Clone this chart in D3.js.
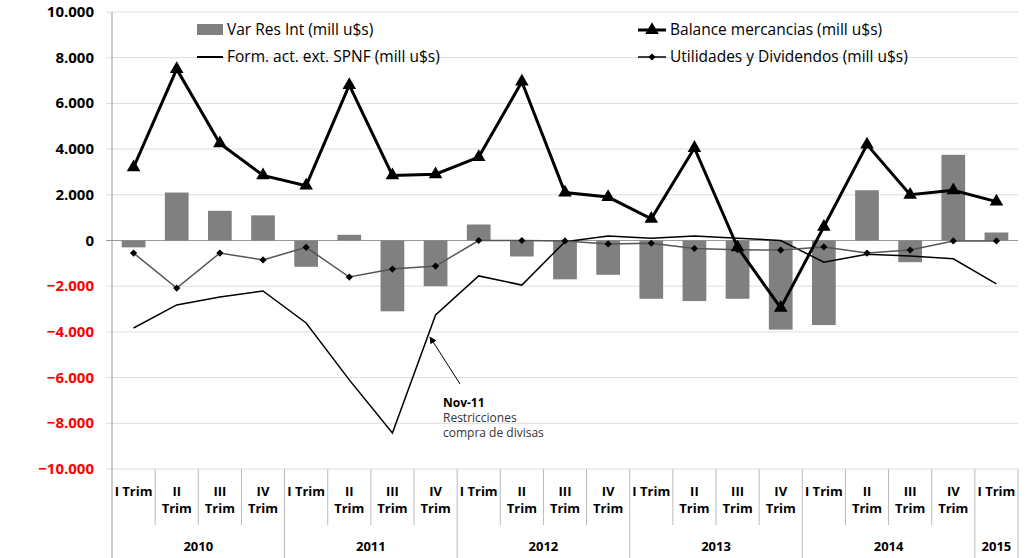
<!DOCTYPE html><html><head><meta charset="utf-8"><script src="https://cdn.jsdelivr.net/npm/d3@7"></script>
<style>body{margin:0;background:#fff}text{font-family:"Open Sans",Calibri,sans-serif}</style></head><body><svg id="c" width="1031" height="558"></svg>
<script>
const years=["2010","2011","2012","2013","2014","2015"];
const quarters=["I Trim","II Trim","III Trim","IV Trim","I Trim","II Trim","III Trim","IV Trim","I Trim","II Trim","III Trim","IV Trim","I Trim","II Trim","III Trim","IV Trim","I Trim","II Trim","III Trim","IV Trim","I Trim"];
const varRes=[-300,2100,1300,1100,-1150,250,-3100,-2000,700,-700,-1700,-1500,-2550,-2650,-2550,-3900,-3700,2200,-950,3750,350];
const balance=[3200,7500,4250,2850,2400,6800,2850,2900,3650,6950,2100,1900,950,4050,-300,-2950,600,4200,2000,2200,1700];
const spnf=[-3830,-2820,-2470,-2210,-3610,-6100,-8420,-3260,-1550,-1950,-50,200,100,200,100,0,-950,-600,-680,-800,-1900];
const util=[-550,-2080,-550,-850,-300,-1600,-1250,-1120,0,0,-20,-150,-120,-350,-400,-420,-280,-550,-420,-20,-20];
const yTicks=[-10000,-8000,-6000,-4000,-2000,0,2000,4000,6000,8000,10000];
const svg=d3.select("#c");
const L=112,R=1018,T=12,B=469;
const x=d3.scaleBand().domain(d3.range(21)).range([L,R]);
const y=d3.scaleLinear().domain([-10000,10000]).range([B,T]);
const fmt=v=>d3.format(",")(v).replace(/,/g,".");
yTicks.forEach(t=>{
 svg.append("line").attr("x1",L-6).attr("x2",R).attr("y1",y(t)).attr("y2",y(t)).attr("stroke",t===0?"#999":"#ddd");
 svg.append("text").attr("x",L-18).attr("y",y(t)+5).attr("text-anchor","end").attr("font-size",15).attr("font-weight","bold").attr("fill",t<0?"#f00":"#000").text(fmt(t));
});
svg.append("line").attr("x1",L).attr("x2",L).attr("y1",T).attr("y2",558).attr("stroke","#999");
const bw=x.bandwidth()*0.55;
svg.selectAll(".b").data(varRes).join("rect").attr("x",(d,i)=>x(i)+(x.bandwidth()-bw)/2).attr("width",bw)
 .attr("y",d=>y(Math.max(0,d))).attr("height",d=>Math.abs(y(d)-y(0))).attr("fill","#808080");
const cx=i=>x(i)+x.bandwidth()/2;
const line=d3.line().x((d,i)=>cx(i)).y(d=>y(d));
const dia=d3.symbol(d3.symbolSquare,26)();
svg.append("path").attr("d",line(spnf)).attr("fill","none").attr("stroke","#000").attr("stroke-width",1.5);
svg.append("path").attr("d",line(util)).attr("fill","none").attr("stroke","#555").attr("stroke-width",1.5);
util.forEach((d,i)=>svg.append("path").attr("d",dia).attr("transform",`translate(${cx(i)},${y(d)}) rotate(45)`).attr("fill","#000"));
svg.append("path").attr("d",line(balance)).attr("fill","none").attr("stroke","#000").attr("stroke-width",3);
balance.forEach((d,i)=>svg.append("path").attr("d",d3.symbol(d3.symbolTriangle,80)()).attr("transform",`translate(${cx(i)},${y(d)})`).attr("fill","#000"));
quarters.forEach((q,i)=>{
 const isYear=i%4===0;
 if(i>0) svg.append("line").attr("x1",x(i)).attr("x2",x(i)).attr("y1",B).attr("y2",isYear?558:525).attr("stroke","#bbb");
 const parts=q==="I Trim"?[q]:q.split(" ");
 parts.forEach((p,k)=>svg.append("text").attr("x",cx(i)).attr("y",parts.length===1?496:496+k*17).attr("text-anchor","middle").attr("font-size",13).attr("font-weight","bold").text(p));
});
years.forEach((yr,j)=>{
 const i0=j*4,i1=Math.min(j*4+3,20);
 svg.append("text").attr("x",(x(i0)+x(i1)+x.bandwidth())/2).attr("y",551).attr("text-anchor","middle").attr("font-size",13).attr("font-weight","bold").text(yr);
});
svg.append("line").attr("x1",R).attr("x2",R).attr("y1",B).attr("y2",558).attr("stroke","#bbb");
const lg=svg.append("g").attr("font-size",15.5);
lg.append("rect").attr("x",197).attr("y",24).attr("width",26).attr("height",11).attr("fill","#808080");
lg.append("text").attr("x",227).attr("y",35).text("Var Res Int (mill u$s)");
lg.append("line").attr("x1",197).attr("x2",223).attr("y1",57).attr("y2",57).attr("stroke","#000").attr("stroke-width",2);
lg.append("text").attr("x",227).attr("y",62).text("Form. act. ext. SPNF (mill u$s)");
lg.append("line").attr("x1",638).attr("x2",666).attr("y1",30).attr("y2",30).attr("stroke","#000").attr("stroke-width",3);
lg.append("path").attr("d",d3.symbol(d3.symbolTriangle,80)()).attr("transform","translate(652,30)");
lg.append("text").attr("x",670).attr("y",35).text("Balance mercancias (mill u$s)");
lg.append("line").attr("x1",638).attr("x2",666).attr("y1",57).attr("y2",57).attr("stroke","#000").attr("stroke-width",1.5);
lg.append("path").attr("d",dia).attr("transform","translate(652,57) rotate(45)");
lg.append("text").attr("x",670).attr("y",62).text("Utilidades y Dividendos (mill u$s)");
svg.append("defs").append("marker").attr("id","ar").attr("viewBox","0 0 10 10").attr("refX",9).attr("refY",5).attr("markerWidth",7).attr("markerHeight",7).attr("orient","auto").append("path").attr("d","M0,0L10,5L0,10z");
svg.append("line").attr("x1",460).attr("y1",384).attr("x2",430).attr("y2",337).attr("stroke","#000").attr("marker-end","url(#ar)");
svg.append("text").attr("x",443).attr("y",407).attr("font-size",12).attr("font-weight","bold").text("Nov-11");
svg.append("text").attr("x",443).attr("y",422).attr("font-size",12).attr("fill","#333").text("Restricciones");
svg.append("text").attr("x",443).attr("y",437).attr("font-size",12).attr("fill","#333").text("compra de divisas");
</script></body></html>
